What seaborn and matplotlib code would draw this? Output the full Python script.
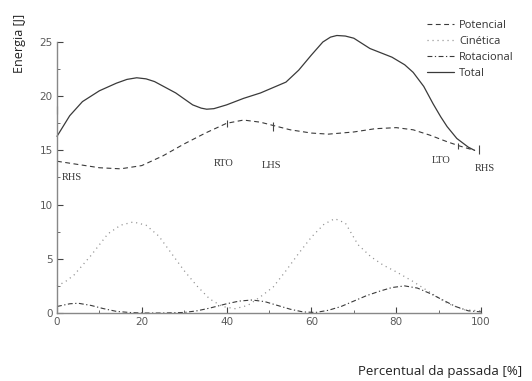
import matplotlib
matplotlib.use("Agg")
import matplotlib.pyplot as plt
import seaborn as sns
import pandas as pd
from matplotlib.ticker import MultipleLocator

# Energy components over the gait cycle (% of stride)
x_total = [0, 3, 6, 10, 14, 16.5, 18.8, 21, 23, 28, 32, 34, 35.3, 37, 40, 44, 48,
           51, 54, 57, 60, 62.7, 64.5, 66, 68, 70, 73.8, 79, 82, 84, 86.5, 88.7,
           90.5, 92, 94.3, 97, 98.5]
total = [16.3, 18.2, 19.5, 20.5, 21.2, 21.55, 21.7, 21.6, 21.35, 20.3, 19.2,
         18.9, 18.8, 18.85, 19.2, 19.8, 20.3, 20.8, 21.3, 22.4, 23.8, 25.0, 25.45,
         25.6, 25.55, 25.35, 24.4, 23.6, 22.9, 22.2, 20.9, 19.3, 18.1, 17.2,
         16.1, 15.3, 15.0]

x_pot = [0, 5, 10, 15, 20, 25, 30, 35, 40, 44, 48, 51, 55, 60, 64, 70, 75, 80,
         84, 88, 92, 95, 98.5]
potencial = [14.0, 13.7, 13.4, 13.3, 13.6, 14.5, 15.6, 16.6, 17.5, 17.8, 17.6,
             17.3, 16.9, 16.6, 16.5, 16.7, 17.0, 17.1, 16.9, 16.4, 15.8, 15.4, 15.0]

x_kin = [0, 2, 4, 8, 12, 15, 18, 21, 24, 27, 30, 33, 36, 39, 42, 45, 48, 51, 54,
         57, 60, 63, 65.5, 68, 71, 74, 77, 80, 84, 88, 92, 96, 100]
cinetica = [2.5, 2.9, 3.5, 5.3, 7.3, 8.1, 8.4, 8.1, 7.1, 5.5, 3.9, 2.5, 1.3, 0.6,
            0.4, 0.7, 1.5, 2.4, 3.9, 5.5, 7.0, 8.2, 8.7, 8.3, 6.3, 5.2, 4.4, 3.8,
            2.9, 1.9, 0.9, 0.3, 0.2]

x_rot = [0, 3, 5, 8, 11, 14, 17, 20, 25, 30, 33, 36, 40, 43, 46, 49, 52, 55, 58,
         61, 64, 67, 70, 73, 76, 79, 82, 85, 88, 91, 94, 97, 100]
rotacional = [0.6, 0.85, 0.9, 0.7, 0.4, 0.15, 0.05, 0.0, 0.0, 0.05, 0.2, 0.45,
              0.85, 1.1, 1.2, 1.05, 0.7, 0.35, 0.1, 0.05, 0.25, 0.6, 1.1, 1.6,
              2.0, 2.35, 2.5, 2.3, 1.8, 1.2, 0.6, 0.2, 0.1]

# Gait events: marker position on the curve and label position
event_names = ["RHS", "RTO", "LHS", "LTO", "RHS"]
event_x = [0, 40.2, 51, 94.5, 99.5]
event_lo = [18.4, 17.2, 16.8, 15.1, 14.7]
event_hi = [19.1, 17.8, 17.6, 15.7, 15.5]
label_x = [3.4, 39.2, 50.7, 90.6, 100.9]
label_y = [12.5, 13.8, 13.6, 14.1, 13.3]

sns.set_theme(style="ticks")
plt.rcParams["lines.scale_dashes"] = False
plt.rcParams["font.family"] = ["Open Sans", "DejaVu Sans"]

fig = plt.figure(figsize=(5.32, 3.81), dpi=100)
ax = fig.add_axes([57 / 532, 1 - 313 / 381, (481 - 57) / 532, (313 - 42) / 381])

series = [
    ("Potencial", x_pot, potencial, (0, (3.5, 2.5)), "#3a3a3a", 0.8),
    ("Cinética", x_kin, cinetica, (0, (0.8, 2.8)), "#8f8f8f", 0.9),
    ("Rotacional", x_rot, rotacional, (0, (3.5, 1.8, 0.9, 1.8)), "#3a3a3a", 0.8),
    ("Total", x_total, total, "-", "#3a3a3a", 0.9),
]
for name, xs, ys, ls, col, lw in series:
    df = pd.DataFrame({"x": xs, "y": ys})
    sns.lineplot(data=df, x="x", y="y", ax=ax, label=name, color=col,
                 linestyle=ls, linewidth=lw, clip_on=False)

ax.vlines(event_x, event_lo, event_hi, colors="#444444", linewidth=0.8,
          clip_on=False)
for name, lx, ly in zip(event_names, label_x, label_y):
    ax.text(lx, ly, name, ha="center", va="center", fontsize=7.5,
            family="Liberation Serif", color="#333333")

ax.set_xlim(0, 100)
ax.set_ylim(0, 25)
ax.xaxis.set_major_locator(MultipleLocator(20))
ax.xaxis.set_minor_locator(MultipleLocator(10))
ax.yaxis.set_major_locator(MultipleLocator(5))
ax.yaxis.set_minor_locator(MultipleLocator(2.5))
ax.tick_params(which="major", direction="in", length=4, width=0.8,
               color="#444444", labelsize=7.5, labelcolor="#5a5a5a", pad=3)
ax.tick_params(which="minor", direction="in", length=2.5, width=0.6,
               color="#555555")
for lab in ax.get_xticklabels() + ax.get_yticklabels():
    lab.set_family("DejaVu Sans")
sns.despine(ax=ax)
for sp in ("left", "bottom"):
    ax.spines[sp].set_color("#888888")
    ax.spines[sp].set_linewidth(1.0)
ax.set_xlabel("")
ax.set_ylabel("")

fig.text(20 / 532, 1 - 43 / 381, "Energia [J]", rotation=90, ha="center",
         va="center", fontsize=9, color="#222222")
fig.text(440 / 532, 1 - 372 / 381, "Percentual da passada [%]", ha="center",
         va="center", fontsize=9.5, color="#222222")

ax.get_legend().remove()
handles, labels = ax.get_legend_handles_labels()
fig.legend(handles, labels, loc="upper left",
           bbox_to_anchor=(427 / 532, 1 - 20 / 381), frameon=False,
           fontsize=8, handlelength=2.4, handletextpad=0.5, labelspacing=0.45,
           borderpad=0, borderaxespad=0, labelcolor="#333333")

fig.savefig("out.png", dpi=100)
